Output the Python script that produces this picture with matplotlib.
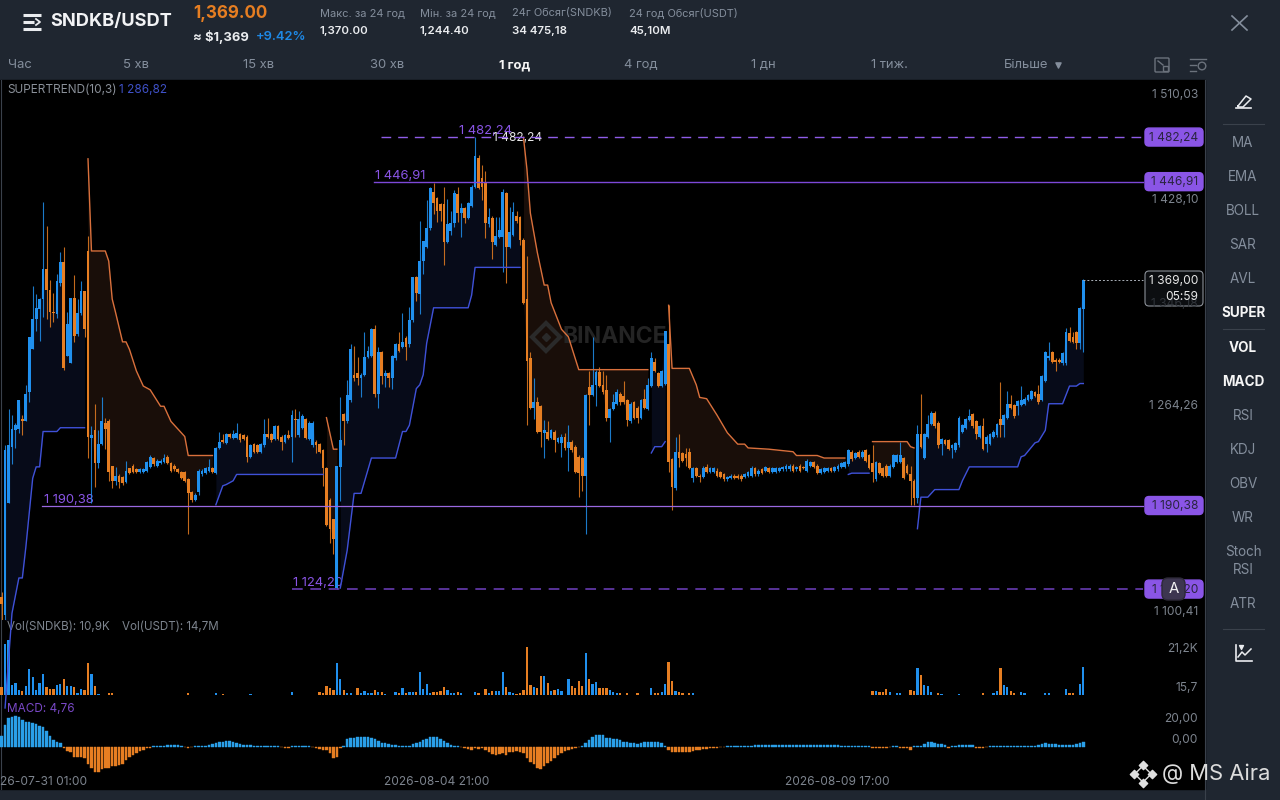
import matplotlib
matplotlib.use('Agg')
import matplotlib.pyplot as plt
from matplotlib.patches import FancyBboxPatch, Rectangle
import numpy as np

plt.rcParams['font.family'] = ['Inter', 'DejaVu Sans']

# candles, 1h
opens = [1118,1104,1192,1237,1250,1251,1259,1257,1280,1314,
         1338,1346,1354,1378,1361,1344,1342,1367,1383,1309,
         1303,1355,1326,1343,1360,1392,1244,1250,1224,1239,
         1256,1257,1222,1210,1214,1213,1209,1220,1222,1219,
         1217,1217,1218,1221,1228,1222,1224,1225,1229,1224,
         1222,1219,1217,1217,1211,1201,1195,1201,1215,1216,
         1218,1220,1216,1236,1242,1240,1247,1244,1244,1247,
         1246,1245,1229,1239,1238,1233,1238,1247,1247,1243,
         1253,1245,1241,1246,1245,1259,1246,1252,1259,1243,
         1238,1241,1239,1234,1220,1195,1180,1125,1221,1263,
         1257,1274,1294,1295,1291,1294,1308,1309,1330,1279,
         1312,1293,1295,1291,1307,1318,1316,1323,1318,1337,
         1371,1358,1384,1395,1410,1439,1434,1429,1429,1399,
         1408,1414,1437,1422,1426,1418,1428,1443,1466,1450,
         1447,1413,1418,1397,1403,1403,1438,1395,1405,1420,
         1419,1401,1354,1307,1268,1272,1269,1248,1249,1244,
         1249,1241,1240,1245,1236,1241,1237,1229,1228,1214,
         1284,1278,1286,1296,1286,1282,1260,1267,1271,1279,
         1277,1274,1257,1272,1268,1260,1275,1267,1285,1304,
         1295,1285,1287,1318,1227,1204,1233,1232,1231,1233,
         1212,1220,1214,1213,1221,1217,1217,1218,1217,1215,
         1211,1212,1214,1214,1214,1213,1214,1214,1220,1215,
         1219,1218,1220,1217,1217,1218,1219,1219,1219,1222,
         1219,1222,1221,1218,1222,1225,1222,1216,1217,1218,
         1220,1218,1219,1221,1221,1223,1233,1228,1233,1229,
         1234,1230,1224,1211,1224,1220,1222,1214,1221,1225,
         1225,1228,1222,1215,1210,1196,1247,1228,1245,1255,
         1264,1256,1239,1242,1242,1236,1234,1238,1249,1252,
         1258,1263,1257,1245,1253,1239,1239,1245,1246,1259,
         1254,1260,1271,1270,1269,1270,1271,1274,1275,1280,
         1279,1274,1289,1307,1312,1306,1306,1303,1303,1327,
         1324,1328,1319,1346]
closes = [1112,1234,1238,1251,1254,1274,1257,1279,1324,1338,
          1347,1354,1378,1361,1344,1343,1368,1383,1299,1334,
          1355,1325,1343,1360,1330,1245,1246,1224,1239,1257,
          1251,1217,1210,1214,1209,1208,1218,1216,1217,1217,
          1219,1219,1225,1229,1223,1226,1226,1228,1224,1218,
          1219,1217,1212,1210,1200,1195,1199,1218,1218,1220,
          1221,1217,1236,1241,1241,1247,1245,1247,1248,1242,
          1243,1229,1238,1233,1233,1239,1247,1245,1242,1253,
          1243,1241,1246,1244,1262,1258,1259,1261,1244,1256,
          1256,1238,1233,1220,1175,1172,1164,1222,1242,1257,
          1278,1314,1291,1291,1294,1308,1313,1330,1279,1312,
          1293,1295,1291,1309,1318,1313,1320,1316,1337,1371,
          1359,1384,1400,1410,1442,1430,1424,1424,1399,1413,
          1414,1438,1422,1426,1418,1430,1443,1467,1442,1443,
          1414,1419,1399,1404,1409,1439,1395,1407,1423,1416,
          1401,1351,1305,1268,1272,1249,1249,1250,1243,1250,
          1242,1244,1245,1236,1241,1234,1217,1216,1214,1278,
          1278,1286,1296,1285,1280,1260,1267,1272,1280,1272,
          1272,1258,1271,1260,1260,1274,1268,1286,1307,1297,
          1285,1297,1329,1225,1205,1233,1228,1226,1228,1220,
          1220,1214,1213,1220,1217,1220,1220,1214,1213,1211,
          1213,1214,1212,1212,1211,1215,1217,1220,1215,1218,
          1216,1221,1217,1220,1220,1220,1221,1222,1222,1218,
          1221,1218,1220,1226,1225,1221,1216,1219,1220,1220,
          1218,1221,1222,1224,1225,1234,1227,1232,1229,1233,
          1226,1220,1217,1225,1216,1214,1214,1222,1230,1230,
          1230,1212,1216,1210,1196,1247,1237,1247,1255,1264,
          1253,1238,1243,1239,1235,1238,1240,1260,1254,1259,
          1261,1253,1247,1253,1235,1245,1247,1249,1255,1254,
          1262,1271,1268,1261,1273,1274,1275,1278,1281,1277,
          1272,1293,1312,1309,1304,1304,1304,1311,1328,1321,
          1320,1319,1347,1369]
highs = [1122,1238,1267,1262,1256,1274,1262,1286,1324,1364,
         1358,1355,1431,1412,1369,1359,1374,1391,1395,1344,
         1355,1373,1354,1368,1360,1404,1253,1271,1250,1276,
         1260,1259,1222,1221,1215,1214,1226,1220,1223,1220,
         1220,1220,1226,1230,1229,1227,1227,1231,1230,1225,
         1223,1220,1218,1218,1212,1202,1200,1219,1219,1221,
         1227,1221,1237,1249,1247,1248,1248,1250,1256,1248,
         1247,1246,1239,1240,1239,1240,1259,1260,1248,1254,
         1254,1246,1247,1250,1266,1267,1265,1263,1260,1257,
         1257,1242,1240,1235,1221,1196,1180,1222,1276,1264,
         1290,1318,1317,1308,1295,1328,1317,1331,1333,1316,
         1313,1298,1296,1310,1319,1328,1343,1325,1348,1371,
         1372,1416,1400,1432,1443,1446,1435,1430,1443,1433,
         1424,1440,1443,1430,1427,1431,1444,1482,1468,1460,
         1455,1426,1420,1419,1419,1441,1439,1427,1431,1424,
         1420,1402,1388,1312,1291,1276,1270,1258,1257,1251,
         1250,1245,1247,1248,1254,1242,1238,1230,1229,1279,
         1297,1324,1298,1300,1297,1294,1268,1279,1283,1280,
         1289,1275,1272,1273,1269,1275,1283,1291,1312,1307,
         1296,1298,1329,1349,1228,1245,1247,1233,1236,1236,
         1221,1221,1215,1222,1223,1221,1221,1220,1218,1216,
         1214,1215,1215,1215,1215,1216,1218,1222,1221,1219,
         1220,1222,1221,1221,1221,1221,1222,1223,1223,1223,
         1222,1223,1222,1227,1226,1226,1223,1220,1221,1221,
         1221,1222,1223,1225,1226,1235,1234,1233,1234,1234,
         1235,1231,1238,1226,1225,1221,1223,1223,1231,1231,
         1241,1229,1223,1222,1211,1254,1279,1248,1262,1265,
         1265,1257,1244,1243,1243,1239,1241,1261,1255,1260,
         1267,1264,1258,1254,1260,1246,1248,1250,1256,1288,
         1263,1281,1278,1271,1274,1285,1276,1279,1282,1281,
         1286,1294,1313,1320,1313,1307,1307,1312,1331,1332,
         1328,1329,1348,1370]
lows = [1100,1100,1192,1223,1236,1248,1246,1257,1272,1314,
        1329,1321,1340,1338,1332,1336,1339,1364,1298,1309,
        1303,1320,1325,1341,1324,1228,1192,1205,1220,1238,
        1235,1210,1204,1207,1204,1207,1208,1215,1216,1216,
        1216,1216,1217,1220,1222,1221,1223,1224,1223,1217,
        1218,1216,1211,1209,1168,1193,1194,1199,1214,1215,
        1217,1216,1215,1235,1240,1239,1244,1243,1243,1241,
        1242,1225,1228,1232,1232,1232,1237,1244,1241,1242,
        1242,1234,1240,1243,1225,1245,1245,1251,1243,1242,
        1237,1232,1232,1206,1174,1161,1152,1124,1194,1238,
        1256,1272,1289,1286,1276,1293,1307,1308,1276,1268,
        1287,1284,1284,1283,1306,1312,1315,1306,1316,1336,
        1352,1342,1374,1394,1409,1421,1415,1416,1381,1398,
        1405,1411,1415,1403,1414,1417,1427,1442,1441,1432,
        1402,1411,1386,1396,1402,1375,1367,1394,1404,1414,
        1397,1350,1254,1267,1259,1248,1237,1228,1242,1243,
        1233,1240,1229,1234,1218,1233,1216,1197,1202,1168,
        1254,1277,1269,1284,1279,1257,1241,1266,1270,1270,
        1271,1253,1256,1259,1256,1259,1267,1266,1284,1296,
        1284,1284,1286,1217,1187,1203,1221,1225,1222,1219,
        1209,1213,1209,1212,1216,1216,1216,1213,1212,1210,
        1210,1211,1211,1211,1210,1212,1213,1213,1214,1214,
        1215,1217,1216,1216,1216,1217,1218,1218,1218,1217,
        1218,1217,1219,1217,1221,1220,1215,1215,1216,1217,
        1217,1217,1218,1220,1220,1222,1226,1227,1228,1228,
        1225,1219,1209,1210,1215,1213,1213,1213,1220,1224,
        1224,1211,1215,1191,1191,1192,1236,1227,1244,1254,
        1252,1236,1230,1238,1234,1228,1233,1237,1248,1251,
        1257,1252,1243,1244,1234,1233,1238,1244,1245,1245,
        1245,1259,1267,1260,1262,1269,1270,1273,1274,1276,
        1271,1273,1288,1306,1303,1297,1303,1302,1302,1320,
        1319,1314,1314,1312]

# supertrend pieces (candle index, price)
up1_i = [1,3,5,6,7,9,10,11,12,16,17,24]
up1_p = [1030,1105,1133,1133,1157,1212,1221,1221,1249,1249,1252,1252]
dn1_i = [25,26,30,31,32,33,35,36,37,39,41,43,46,47,49,53,54,61]
dn1_p = [1465,1392,1392,1384,1354,1343,1320,1320,1314,1297,1285,1282,1269,1269,1257,1245,1230,1230]
up2_i = [62,64,65,67,68,93]
up2_p = [1191,1206,1207,1210,1215,1215]
dn2_i = [94,96,97]
dn2_p = [1260,1235,1235]
up3_i = [98,100,102,104,107,114,116,117,118,120,121,122,123,125,135,136,137,150]
up3_p = [1125,1155,1200,1200,1228,1228,1249,1249,1254,1283,1286,1294,1319,1347,1347,1357,1379,1379]
dn3_i = [151,152,153,155,157,158,159,162,164,167,187]
dn3_p = [1482,1457,1422,1391,1365,1365,1351,1330,1324,1298,1298]
up4_i = [188,189,191,192]
up4_p = [1232,1237,1237,1241]
dn4_i = [193,194,199,201,202,204,207,210,213,215,216,222,229,230,236,238,244]
dn4_p = [1349,1299,1299,1286,1276,1275,1262,1248,1239,1239,1236,1235,1233,1230,1230,1228,1228]
up5_i = [245,246,251]
up5_p = [1215,1216,1216]
dn5_i = [252,262,263,264]
dn5_p = [1241,1241,1237,1236]
up6_i = [265,266,268,270,277,278,280,294,295,296,299,300,302,303,307,309,311,312,313]
up6_p = [1172,1197,1197,1203,1203,1210,1221,1221,1229,1230,1240,1241,1250,1271,1271,1285,1285,1287,1287]

# volume in thousands, only the bars that can be seen
vol_i = [0,1,2,3,4,5,6,7,8,9,10,11,12,13,14,15,16,17,18,19,20,21,22,23,24,25,26,27,28,31,32,
         54,62,64,72,84,92,93,94,95,96,97,98,99,100,101,103,104,105,106,107,108,109,110,111,
         114,115,116,117,118,119,120,121,122,123,124,125,126,127,128,129,130,131,132,133,
         137,138,140,141,142,143,144,145,146,147,148,149,150,151,152,153,154,155,156,157,158,159,
         160,161,162,164,165,166,167,168,169,170,171,172,173,174,175,176,177,178,179,181,184,
         188,189,190,191,192,193,194,195,196,197,199,200,
         252,253,254,255,256,257,259,260,263,264,265,266,267,268,269,271,272,277,284,
         287,288,289,290,291,292,293,295,296,302,303,308,309,310,312,313]
vol_k = [2.9,19.5,21.4,3.9,4.6,2.0,1.7,3.6,10.1,6.8,2.0,4.8,8.2,3.0,2.3,2.3,3.9,4.3,6.1,3.3,3.6,3.0,0.6,2.3,2.0,12.4,8.1,3.3,0.4,0.9,0.9,
         0.6,0.6,0.4,0.4,1.2,1.0,0.6,3.5,2.6,1.8,12.4,6.2,2.1,0.9,0.9,2.6,0.6,1.6,0.9,0.9,1.8,1.2,1.2,0.5,
         1.0,0.9,2.7,0.9,1.2,1.3,1.2,8.8,2.2,4.2,0.9,1.2,1.2,1.7,3.0,1.8,0.9,0.8,1.0,0.8,
         1.3,0.6,2.3,0.8,1.4,1.4,1.4,8.8,2.9,1.3,0.8,0.5,0.8,1.8,18.6,3.9,3.2,2.6,7.5,7.5,4.5,1.5,
         1.8,2.3,1.5,6.1,3.5,2.6,5.5,3.3,16.0,6.0,4.3,5.0,2.7,2.7,2.7,2.0,1.0,0.6,0.6,0.6,0.8,
         2.6,0.8,0.8,1.2,4.2,12.6,5.3,1.4,1.0,0.8,0.8,0.8,
         1.6,1.4,1.2,1.2,2.3,1.2,0.6,0.8,2.0,1.7,10.5,7.8,3.8,3.3,1.0,0.8,0.5,0.5,0.6,
         0.9,1.6,10.5,3.9,3.1,1.6,0.8,1.2,0.9,0.8,0.8,2.3,0.8,0.8,4.3,10.9]

macd = [10.5,20.6,27,28.6,28.9,28,25.4,23.8,23.5,23,
        22,20,19,15,10.5,6.3,4.8,3.2,-1.5,-4,
        -5.4,-9.5,-9.8,-10,-11,-17,-20.6,-23.8,-23.8,-21,
        -20,-20,-19,-19,-18,-16.5,-12.7,-9.5,-8,-6.3,
        -4,-3.2,-1.5,-1,0.4,0.5,0.8,1,1.5,1.5,
        1.5,1.2,1,-0.8,-1.5,-0.8,0.3,0.5,0.6,1,
        1.5,2,3,4,4.5,5,5,4.5,3.5,2.5,
        1.8,1.5,1.5,1,0.8,0.5,0.5,0.8,1,0.8,
        0.5,-0.5,-1,-1.2,0.3,0.5,0.8,0.8,0.5,0.3,
        -0.8,-1.5,-2,-3,-3.5,-6,-10.5,-9.5,-1,0.5,
        7.3,8,8.6,8.9,8.9,8.9,9,8,7.3,5.4,
        3.8,3.2,2.2,1.6,1.3,0.6,0.5,0.5,1,2.9,
        3.8,4.8,6.3,7.3,9,9.5,9,7,5.4,3.2,
        1.6,1,0.3,-0.5,-1,-2,-3,-1.5,-2,-1,
        -3,-5,-7,-8,-7.5,-6,-8,-5,-5,-4,
        -5,-6,-11,-15,-17,-20,-21,-19,-16,-13.5,
        -11,-8.5,-6.3,-4.5,-3,-2,-1,-0.5,0.5,3,
        6.3,9.5,10.8,11,10.8,8.6,8,7.3,7,6.7,
        4.8,4,3.5,3.2,2.9,3.2,4.8,4.8,4.8,4.8,
        4.4,3.2,0.6,-3.5,-5,-5.4,-5,-5,-5,-5,
        -4,-3,-3,-2.5,-2,-1.5,-1,-1,-0.8,-0.5,
        0.4,0.5,0.6,0.6,0.7,0.8,1,1,1.5,1.5,
        1.6,1.6,1.7,1.8,1.8,1.8,1.8,1.7,1.6,1.5,
        1.5,1.4,1.3,1.2,1.2,1.2,1.2,1.2,1.2,1.2,
        1.2,1.2,1.1,1,
        0.8,0.5,0.5,0.6,0.8,1,1,1,-1.5,-1.5,
        -1.6,-1.5,-1.5,-0.3,0.3,0.4,-1.5,-1.5,-1.8,-3,
        0.5,0.6,1,2.5,4,4.3,3.5,2.5,2,1.5,
        -1.5,0.5,0.8,1.3,1.3,1.3,1.3,1.3,-1.2,-1.2,
        -1.2,-0.3,0.3,0.5,0.6,0.8,1,1,1,1,
        0.6,0.8,0.8,0.8,0.8,1,1.5,2.5,3,2.5,
        2,2,1.5,1.5,1.5,1.5,1.5,2,3,4.76]

high_line = 1482.24
res_line = 1446.91
sup_line = 1190.38
low_line = 1124.20
last_price = 1369.00

price_ticks = ['1 510,03', '1 428,10', '1 264,26', '1 100,41']
periods = ['Час', '5 хв', '15 хв', '30 хв', '1 год', '4 год', '1 дн', '1 тиж.', 'Більше']
side_items = ['MA', 'EMA', 'BOLL', 'SAR', 'AVL', 'SUPER', 'VOL', 'MACD', 'RSI', 'KDJ', 'OBV', 'WR', 'Stoch\nRSI', 'ATR']
side_active = ['SUPER', 'VOL', 'MACD']

BLUE = '#2090ee'
ORANGE = '#e67e22'
MACD_BLUE = '#2a9fe8'
ST_BLUE = '#3f51d8'
ST_ORANGE = '#d9703c'
PURPLE = '#8a55e6'
GREY = '#7d848e'
PANEL = '#1f2630'

W, H = 1280, 800
fig = plt.figure(figsize=(12.8, 8), dpi=100, facecolor=PANEL)

def pane(top, bottom):
    return fig.add_axes([0, 1 - bottom / H, 1205 / W, (bottom - top) / H])

# ui layer in pixels, lowest
ui = fig.add_axes([0, 0, 1, 1], zorder=0)
ui.set_xlim(0, W)
ui.set_ylim(H, 0)
ui.axis('off')
ui.add_patch(Rectangle((0, 80), 1205, 709, color='black'))
ui.plot([1, 1], [80, 789], color='#3a414b', lw=0.8)
ui.plot([1205, 1205], [80, 800], color='#3a414b', lw=0.8)

def txt(x, y, s, px, color='#eaecef', ha='left', weight='normal', z=20, alpha=1):
    return ui.text(x, y, s, fontsize=px * 0.72, color=color, ha=ha, va='center',
                   fontweight=weight, zorder=z, alpha=alpha)

ax = pane(80, 620)
vx = pane(640, 695)
mx = pane(700, 789)
x_lim = (-1.6 / 3.456, (1205 - 1.6) / 3.456)
for a in (ax, vx, mx):
    a.set_xlim(*x_lim)
    a.axis('off')
    a.patch.set_alpha(0)
ax.set_zorder(3)
vx.set_zorder(2)
mx.set_zorder(2)
ax.set_ylim(1590.8 - 0.7921 * 620, 1590.8 - 0.7921 * 80)
vx.set_ylim(0, 21.2)
mx.set_ylim(-40.5, 44.5)

idx = np.arange(len(opens))
o = np.array(opens, dtype=float)
c = np.array(closes, dtype=float)
colors = [BLUE if c[i] >= o[i] else ORANGE for i in idx]

# supertrend fill + line
segs = [(up1_i, up1_p, ST_BLUE, '#070b19'), (dn1_i, dn1_p, ST_ORANGE, '#190e09'),
        (up2_i, up2_p, ST_BLUE, '#070b19'), (dn2_i, dn2_p, ST_ORANGE, '#190e09'),
        (up3_i, up3_p, ST_BLUE, '#070b19'), (dn3_i, dn3_p, ST_ORANGE, '#190e09'),
        (up4_i, up4_p, ST_BLUE, '#070b19'), (dn4_i, dn4_p, ST_ORANGE, '#190e09'),
        (up5_i, up5_p, ST_BLUE, '#070b19'), (dn5_i, dn5_p, ST_ORANGE, '#190e09'),
        (up6_i, up6_p, ST_BLUE, '#070b19')]
for si, sp, col, fillc in segs:
    xs = np.arange(si[0], si[-1] + 1)
    ax.fill_between(xs, np.interp(xs, si, sp), c[xs], color=fillc, lw=0, zorder=1)
    ax.plot(si, sp, color=col, lw=1.0, zorder=4, clip_on=False)

# watermark sits over the fill, under the candles
ax.plot([546], [0], marker='D', ms=14, mfc='none', mec='#2a2a2a', mew=3, transform=ui.transData, clip_on=False, zorder=1.5)
ax.lines[-1].set_ydata([337])
ax.plot([546], [337], marker='D', ms=4.5, color='#2a2a2a', transform=ui.transData, clip_on=False, zorder=1.5)
ax.text(562, 337, 'BINANCE', fontsize=23 * 0.72, color='#242424', fontweight='bold', va='center',
        transform=ui.transData, zorder=1.5)

# candles
ax.vlines(idx, lows, highs, colors=colors, lw=0.8, alpha=0.85, zorder=2)
ax.bar(idx, np.maximum(np.abs(c - o), 0.8), bottom=np.minimum(o, c), width=0.8,
       color=colors, lw=0, zorder=3)

# price lines
for price, start_px, style, lw, lcol, lab, lab_x in [
        (high_line, 381, (0, (7, 5)), 1.0, '#8f5ce8', '1 482,24', 459),
        (res_line, 374, '-', 1.0, '#7d48d8', '1 446,91', 375),
        (sup_line, 42, '-', 0.9, '#9a68e0', '1 190,38', 44),
        (low_line, 292, (0, (7, 5)), 1.1, '#7040c0', '1 124,20', 293)]:
    ax.plot([(start_px - 1.6) / 3.456, (1143 - 1.6) / 3.456], [price, price], color=lcol,
            lw=lw, ls=style, zorder=5)
    y_px = (1590.8 - price) / 0.7921
    txt(lab_x, y_px - 6, lab, 13, PURPLE, z=6)
    ui.add_patch(FancyBboxPatch((1145, y_px - 9), 58, 18, boxstyle='round,pad=0,rounding_size=4',
                                fc=PURPLE, ec=PURPLE, lw=1, zorder=10))
    txt(1198, y_px + 0.5, lab, 12, '#2a2440', ha='right', z=11)
txt(493, 138, '1 482,24', 12, '#e8e8e8', z=12)

ax.plot([313, (1143 - 1.6) / 3.456], [last_price, last_price], color='#aab0b8', lw=0.7, ls=(0, (2, 2)), zorder=5)
ui.add_patch(FancyBboxPatch((1145, 271), 58, 35, boxstyle='round,pad=0,rounding_size=4',
                            fc='#0c0e11', ec='#8b9098', lw=0.8, zorder=10))
txt(1198, 304, '1 346,18', 12, '#30343a', ha='right', z=10.5)
txt(1198, 281, '1 369,00', 12, '#e8e8e8', ha='right', z=11)
txt(1198, 297, '05:59', 12, '#e8e8e8', ha='right', z=11)

# volume, macd
vx.bar(vol_i, vol_k, width=0.66, color=[colors[i] for i in vol_i], lw=0)
macd_cols = [MACD_BLUE if v >= 0 else ORANGE for v in macd]
mx.bar(idx, macd, width=0.72, color=macd_cols, edgecolor=macd_cols, lw=0.3)

# pane captions and axis text
txt(7, 90, 'SUPERTREND(10,3)', 11.8, '#8a9099')
txt(119, 90, '1 286,82', 11.8, '#3f51c8')
txt(7, 627, 'Vol(SNDKB): 10,9K', 11.6, '#7d848e')
txt(122, 627, 'Vol(USDT): 14,7M', 11.6, '#7d848e')
txt(7, 709, 'MACD: 4,76', 11.8, '#7a49c8')
for s, y in zip(price_ticks, [95, 200, 406, 612]):
    txt(1198, y, s, 12, GREY, ha='right')
txt(1198, 649, '21,2K', 12, GREY, ha='right')
txt(1198, 688, '15,7', 12, GREY, ha='right')
txt(1198, 719, '20,00', 12, GREY, ha='right')
txt(1198, 740, '0,00', 12, GREY, ha='right')
for s, x in zip(['26-07-31 01:00', '2026-08-04 21:00', '2026-08-09 17:00'], [0, 437, 837]):
    txt(x, 782, s, 12, GREY, ha='left' if x == 0 else 'center')

# header
for y in (15, 22, 29):
    ui.plot([23, 41 if y != 22 else 34], [y, y], color='#eaecef', lw=2.2, solid_capstyle='butt')
ui.plot([36, 40, 36], [19, 22, 25], color='#eaecef', lw=1.3)
txt(50, 22, 'SNDKB/USDT', 18.2, '#f2f3f5', weight='bold')
txt(193, 14, '1,369.00', 17, ORANGE, weight='bold')
txt(193, 37, '≈ $1,369', 13, '#eaecef', weight='bold')
txt(256, 37, '+9.42%', 13, '#1e88e5', weight='semibold')
for x, a_, b_ in [(320, 'Макс. за 24 год', '1,370.00'), (420, 'Мін. за 24 год', '1,244.40'),
                  (512, '24г Обсяг(SNDKB)', '34 475,18'), (629, '24 год Обсяг(USDT)', '45,10M')]:
    txt(x, 13, a_, 11, '#848e9c')
    txt(x, 31, b_, 11.5, '#eaecef', weight='semibold')
for s, x in zip(periods, [8, 123, 243, 370, 499, 624, 751, 871, 1004]):
    act = s == '1 год'
    txt(x, 65.5, s, 13, '#f5f5f5' if act else '#848e9c', weight='bold' if act else 'normal')
ui.scatter([1058], [65], marker='v', s=14, color='#848e9c')

# top right icons
ui.plot([1232, 1247], [16, 30], color='#848e9c', lw=1.2)
ui.plot([1232, 1247], [30, 16], color='#848e9c', lw=1.2)
ui.add_patch(FancyBboxPatch((1155, 58), 14, 14, boxstyle='round,pad=0,rounding_size=1', fc='none', ec='#6b727c', lw=1))
ui.add_patch(Rectangle((1163, 66), 5, 5, fc=PANEL, ec='#6b727c', lw=1))
ui.plot([1158, 1163], [61, 65], color='#6b727c', lw=1)
for y, x1 in [(59, 1206), (65, 1196), (71, 1196)]:
    ui.plot([1190, x1], [y, y], color='#6b727c', lw=1)
ui.scatter([1202], [66], marker='o', s=30, facecolor='none', edgecolor='#6b727c', linewidth=1)

# sidebar
ui.plot([1236, 1251], [108, 108], color='#eaecef', lw=1.2)
ui.plot([1238, 1246, 1251, 1243, 1238, 1238], [106, 96, 99, 107, 107, 106], color='#eaecef', lw=1.1)
for y in (124, 329, 629):
    ui.plot([1223, 1264], [y, y], color='#3a414b', lw=0.8)
side_y = [143, 177, 211, 245, 279, 313, 348, 382, 416, 450, 484, 518, 561, 604]
for s, y in zip(side_items, side_y):
    act = s in side_active
    ui.text(1243, y, s, fontsize=13.5 * 0.72, color='#f5f5f5' if act else '#848e9c',
            ha='center', va='center', fontweight='bold' if act else 'normal', linespacing=1.3)
ui.plot([1236, 1236, 1252], [645, 661, 661], color='#eaecef', lw=1.2)
ui.plot([1238, 1242, 1245, 1251], [657, 652, 655, 649], color='#eaecef', lw=1.1)
ui.scatter([1241], [647], marker='v', s=8, color='#eaecef')

# floating A button
ui.add_patch(FancyBboxPatch((1162, 578), 23, 22, boxstyle='round,pad=0,rounding_size=6', fc='#3d3650', ec='#2d2938', lw=1, zorder=12))
txt(1174, 589, 'A', 15, '#f0f0f0', ha='center', z=13)

# bottom right mark
for px, py in [(1143, 765), (1134, 774), (1152, 774), (1143, 783)]:
    ui.scatter([px], [py], marker='D', s=18, color='#e0e0e0', zorder=15)
ui.scatter([1143], [774], marker='D', s=70, facecolor='none', edgecolor='#e0e0e0', linewidth=1, zorder=15)
txt(1162, 774, '@ MS Aira', 22, '#dcdcdc', z=15)

fig.savefig('out.png', dpi=100, facecolor=fig.get_facecolor())
